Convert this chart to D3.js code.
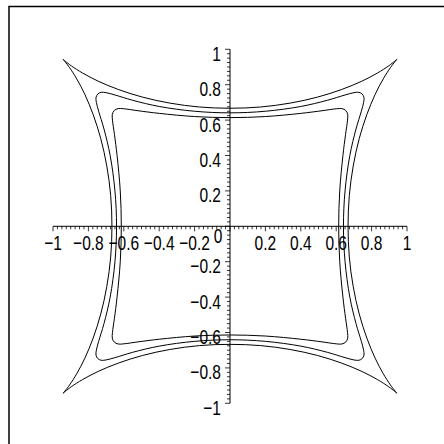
<!DOCTYPE html>
<html>
<head>
<meta charset="utf-8">
<script src="https://cdn.jsdelivr.net/npm/d3@7"></script>
<style>
  html, body { margin: 0; padding: 0; background: #fff; }
  svg { display: block; }
  .lbl { font-family: "Liberation Sans", Arial, sans-serif; font-size: 21px; fill: #000; }
</style>
</head>
<body>
<svg id="chart" width="444" height="444"></svg>
<script>
// First-quadrant points of each closed curve, running from the y-axis crossing
// to the x-axis crossing; the other quadrants are their mirror images.
const outerQuad = [
  [0, 0.667], [0.173, 0.674], [0.34, 0.696], [0.495, 0.730], [0.631, 0.773],
  [0.745, 0.820], [0.833, 0.866], [0.896, 0.906], [0.931, 0.933], [0.943, 0.943],
  [0.933, 0.931], [0.906, 0.896], [0.866, 0.833], [0.820, 0.745], [0.773, 0.631],
  [0.730, 0.495], [0.696, 0.34], [0.674, 0.173], [0.667, 0]
];
const middleQuad = [
  [0, 0.641], [0.2, 0.650], [0.4, 0.677], [0.55, 0.712], [0.65, 0.742],
  [0.70, 0.755], [0.728, 0.757], [0.747, 0.747], [0.757, 0.728], [0.755, 0.70],
  [0.742, 0.65], [0.712, 0.55], [0.677, 0.4], [0.650, 0.2], [0.641, 0]
];
const innerQuad = [
  [0, 0.614], [0.2, 0.620], [0.4, 0.638], [0.52, 0.653], [0.6, 0.664],
  [0.632, 0.665], [0.654, 0.654], [0.665, 0.632], [0.664, 0.6], [0.653, 0.52],
  [0.638, 0.4], [0.620, 0.2], [0.614, 0]
];

const xTickValues = [-1, -0.8, -0.6, -0.4, -0.2, 0.2, 0.4, 0.6, 0.8, 1];
const xTickLabels = ["\u22121", "\u22120.8", "\u22120.6", "\u22120.4", "\u22120.2", "0.2", "0.4", "0.6", "0.8", "1"];
const yTickValues = [1, 0.8, 0.6, 0.4, 0.2, -0.2, -0.4, -0.6, -0.8, -1];
const yTickLabels = ["1", "0.8", "0.6", "0.4", "0.2", "\u22120.2", "\u22120.4", "\u22120.6", "\u22120.8", "\u22121"];
const originLabel = "0";
const minorStep = 0.025;

const svg = d3.select("#chart");

const x = d3.scaleLinear().domain([-1, 1]).range([53, 407]);
const y = d3.scaleLinear().domain([-1, 1]).range([403.3, 49.3]);

// frame
svg.append("path")
  .attr("d", "M9,450 L9,6.5 L450,6.5")
  .attr("fill", "none").attr("stroke", "#000").attr("stroke-width", 1.5);

// mirror one quadrant into a closed ring
function ring(q) {
  return [
    ...q,
    ...q.slice(0, -1).reverse().map(([a, b]) => [a, -b]),
    ...q.slice(1).map(([a, b]) => [-a, -b]),
    ...q.slice(1, -1).reverse().map(([a, b]) => [-a, b])
  ];
}

const line = d3.line()
  .x(d => x(d[0])).y(d => y(d[1]))
  .curve(d3.curveCatmullRomClosed.alpha(0.5));

[outerQuad, middleQuad, innerQuad].forEach(q => {
  svg.append("path")
    .attr("d", line(ring(q)))
    .attr("fill", "none").attr("stroke", "#000").attr("stroke-width", 1);
});

// axes through the origin
const minorTicks = d3.range(-40, 41).map(i => i * minorStep);
const isMajor = v => Math.abs(v * 5 - Math.round(v * 5)) < 1e-6;

const ax = svg.append("g");
ax.append("line").attr("x1", x(-1)).attr("x2", x(1)).attr("y1", y(0)).attr("y2", y(0))
  .attr("stroke", "#000").attr("stroke-width", 1);
ax.append("line").attr("x1", x(0)).attr("x2", x(0)).attr("y1", y(-1)).attr("y2", y(1))
  .attr("stroke", "#000").attr("stroke-width", 1);

ax.selectAll("line.xt").data(minorTicks).join("line").attr("class", "xt")
  .attr("x1", d => x(d)).attr("x2", d => x(d))
  .attr("y1", y(0)).attr("y2", d => y(0) + (isMajor(d) ? 5 : 3))
  .attr("stroke", "#000").attr("stroke-width", 0.8);
ax.selectAll("line.yt").data(minorTicks).join("line").attr("class", "yt")
  .attr("y1", d => y(d)).attr("y2", d => y(d))
  .attr("x1", x(0)).attr("x2", d => x(0) - (isMajor(d) ? 5 : 3))
  .attr("stroke", "#000").attr("stroke-width", 0.8);

// condensed labels: horizontal squeeze applied per text
const squeeze = 0.74;

svg.selectAll("text.xl").data(xTickValues).join("text").attr("class", "lbl xl")
  .attr("transform", d => `translate(${x(d)},${y(0) + 24}) scale(${squeeze},1)`)
  .attr("text-anchor", "middle")
  .text((d, i) => xTickLabels[i]);

svg.selectAll("text.yl").data(yTickValues).join("text").attr("class", "lbl yl")
  .attr("transform", d => `translate(${x(0) - 9},${y(d) + 11.5}) scale(${squeeze},1)`)
  .attr("text-anchor", "end")
  .text((d, i) => yTickLabels[i]);

svg.append("text").attr("class", "lbl")
  .attr("transform", `translate(${x(0) - 12},${y(0) + 17}) scale(${squeeze},1)`)
  .attr("text-anchor", "middle")
  .text(originLabel);
</script>
</body>
</html>
